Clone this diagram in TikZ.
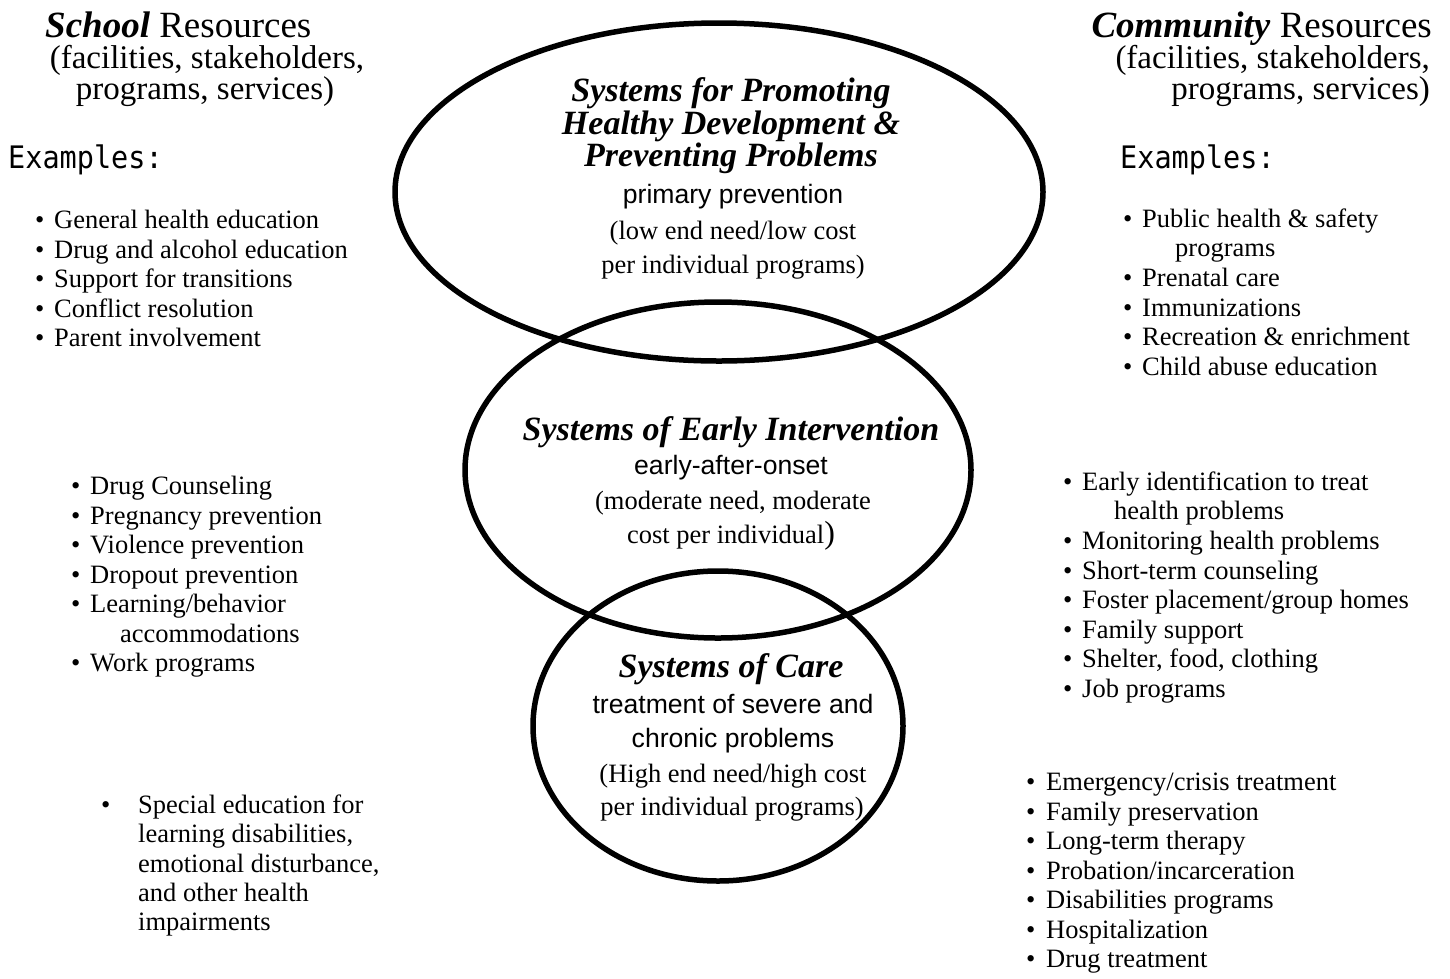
\documentclass[tikz,border=0pt]{standalone}
\usepackage{fontspec}
\setmainfont{Liberation Serif}
\setsansfont{Liberation Sans}
\newfontfamily\exfont[FakeStretch=0.92]{DejaVu Sans Mono}
\usetikzlibrary{positioning}

\newcommand{\fsz}[2]{\fontsize{#1}{#2}\selectfont}

\begin{document}
\begin{tikzpicture}[x=1pt,y=-1pt]
    \tikzset{
        ring/.style={draw, line width=5.5pt},
        body/.style={inner sep=0pt, font=\fsz{26.5}{29.5}},
        item/.style={body, anchor=base west},
        dot/.style={body, anchor=base west},
        mid/.style={body, anchor=base},
        head/.style={inner sep=0pt, font=\fsz{33}{31}},
        ttl/.style={inner sep=0pt, anchor=base, font=\fsz{34}{33}\bfseries\itshape},
        sub/.style={inner sep=0pt, anchor=base, font=\fsz{26.6}{30}\sffamily},
        exmp/.style={inner sep=0pt, anchor=base west, font=\exfont\fsz{31}{31}}
    }
    \useasboundingbox (0,0) rectangle (1450,978);

    % the three systems
    \draw[ring] (719,192) ellipse [x radius=324, y radius=169];
    \draw[ring] (718,470) ellipse [x radius=253, y radius=168];
    \draw[ring] (718,726) ellipse [x radius=185, y radius=155];

    \node[ttl] (p1) at (731,101) {Systems for Promoting};
    \node[ttl] (p2) at (731,134) {Healthy Development \&};
    \node[ttl] (p3) at (731,166) {Preventing Problems};
    \node[sub] (p4) at (733,203) {primary prevention};
    \node[mid] (p5) at (733,239) {(low end need/low cost};
    \node[mid] (p6) at (733,273) {per individual programs)};

    \node[ttl] (e1) at (731,440) {Systems of Early Intervention};
    \node[sub] (e2) at (731,474) {early-after-onset};
    \node[mid] (e3) at (733,509) {(moderate need, moderate};
    \node[mid] (e4) at (731,543) {cost per individual{\fsz{32}{32})}};

    \node[ttl] (c1) at (731,677) {Systems of Care};
    \node[sub] (c2) at (733,713) {treatment of severe and};
    \node[sub] (c3) at (733,747) {chronic problems};
    \node[mid] (c4) at (733,782) {(High end need/high cost};
    \node[mid] (c5) at (732,815) {per individual programs)};

    % school side
    \node[head, anchor=base west, font=\fsz{37}{31}] (sh) at (45,37) {\textbf{\textit{School}} Resources};
    \node[head, anchor=base] (sh2) at (207,68) {(facilities, stakeholders,};
    \node[head, anchor=base] (sh3) at (205,99) {programs, services)};
    \node[exmp] (sx) at (8,168) {Examples:};

    \foreach \y/\t [count=\i] in {228/General health education, 258/Drug and alcohol education,
        287/Support for transitions, 317/Conflict resolution, 346/Parent involvement}
    {
        \node[dot] (sa\i) at (35,\y) {•};
        \node[item] (sat\i) at (54,\y) {\t};
    }
    \foreach \y/\t [count=\i] in {494/Drug Counseling, 524/Pregnancy prevention, 553/Violence prevention,
        583/Dropout prevention, 612/{Learning/behavior}, 671/Work programs}
    {
        \node[dot] (sb\i) at (71,\y) {•};
        \node[item] (sbt\i) at (90,\y) {\t};
    }
    \node[item] (sbx) at (120,642) {accommodations};
    \node[dot] (sc) at (101,813) {•};
    \foreach \y/\t [count=\i] in {813/Special education for, 842/{learning disabilities,},
        872/{emotional disturbance,}, 901/and other health, 930/impairments}
        \node[item] (sct\i) at (138,\y) {\t};

    % community side
    \node[head, anchor=base east, font=\fsz{37}{31}] (ch) at (1432,37) {\textbf{\textit{Community}} Resources};
    \node[head, anchor=base east] (ch2) at (1430,68) {(facilities, stakeholders,};
    \node[head, anchor=base east] (ch3) at (1430,99) {programs, services)};
    \node[exmp] (cx) at (1120,168) {Examples:};

    \foreach \y/\t [count=\i] in {227/Public health \& safety, 286/Prenatal care, 316/Immunizations,
        345/Recreation \& enrichment, 375/Child abuse education}
    {
        \node[dot] (ca\i) at (1123,\y) {•};
        \node[item] (cat\i) at (1142,\y) {\t};
    }
    \node[item] (cax) at (1175,256) {programs};
    \foreach \y/\t [count=\i] in {490/Early identification to treat, 549/Monitoring health problems,
        579/Short-term counseling, 608/{Foster placement/group homes}, 638/Family support,
        667/{Shelter, food, clothing}, 697/Job programs}
    {
        \node[dot] (cb\i) at (1063,\y) {•};
        \node[item] (cbt\i) at (1082,\y) {\t};
    }
    \node[item] (cbx) at (1114,519) {health problems};
    \foreach \y/\t [count=\i] in {790/{Emergency/crisis treatment}, 820/Family preservation,
        849/Long-term therapy, 879/{Probation/incarceration}, 908/Disabilities programs,
        938/Hospitalization, 967/Drug treatment}
    {
        \node[dot] (cc\i) at (1026,\y) {•};
        \node[item] (cct\i) at (1046,\y) {\t};
    }
\end{tikzpicture}
\end{document}
